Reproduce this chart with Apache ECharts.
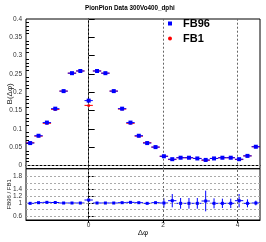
<!DOCTYPE html>
<html><head><meta charset="utf-8">
<script src="https://cdn.jsdelivr.net/npm/echarts@6/dist/echarts.min.js"></script>
<style>html,body{margin:0;padding:0;background:#fff}#c{width:266px;height:242px}</style>
</head><body><div id="c"></div>
<script>
// ---- data ----
const nBins = 28;
const phiLow = -Math.PI / 2 - Math.PI / 28;
const phiHigh = 3 * Math.PI / 2 - Math.PI / 28;
const fb96 = [0.061, 0.081, 0.117, 0.155, 0.203, 0.252, 0.258, 0.177, 0.258, 0.252, 0.203, 0.155, 0.117, 0.081,
              0.061, 0.050, 0.025, 0.017, 0.021, 0.021, 0.019, 0.015, 0.019, 0.021, 0.021, 0.017, 0.026, 0.051];
const fb1 = [0.062, 0.080, 0.115, 0.153, 0.203, 0.252, 0.258, 0.164, 0.258, 0.252, 0.203, 0.154, 0.115, 0.080,
             0.062, 0.050, 0.025, 0.016, 0.021, 0.021, 0.019, 0.014, 0.019, 0.021, 0.021, 0.016, 0.026, 0.051];
const ratio = [0.99, 1.01, 1.02, 1.015, 1.0, 1.0, 1.0, 1.09, 1.0, 1.0, 1.0, 1.01, 1.02, 1.01,
               0.99, 1.01, 1.0, 1.07, 0.99, 0.99, 0.99, 1.06, 0.99, 0.99, 0.99, 1.07, 0.99, 1.0];
const ratioErr = [0.02, 0.02, 0.015, 0.015, 0.012, 0.012, 0.012, 0.015, 0.012, 0.012, 0.012, 0.015, 0.015, 0.02,
                  0.02, 0.03, 0.14, 0.2, 0.16, 0.16, 0.16, 0.31, 0.15, 0.14, 0.14, 0.2, 0.12, 0.07];
const yTicksTop = [0, 0.05, 0.1, 0.15, 0.2, 0.25, 0.3, 0.35, 0.4];
const yTicksRatio = [0.6, 0.8, 1, 1.2, 1.4, 1.6, 1.8];
const xTicks = [0, 2, 4];
const titleText = 'PionPion Data 300Vo400_dphi';

// ---- derived ----
const binW = (phiHigh - phiLow) / nBins;
const centers = fb96.map((_, i) => phiLow + (i + 0.5) * binW);
const minorTop = [];
for (let k = 0; k <= 40; k++) { if (k % 5 !== 0) minorTop.push(k / 100); }

const FONT = 'Liberation Sans';
const hbar = (color) => function (params, api) {
  const x = api.value(0), y = api.value(1), hw = api.value(2);
  const a = api.coord([x - hw, y]), b = api.coord([x + hw, y]);
  return { type: 'line', shape: { x1: a[0], y1: a[1], x2: b[0], y2: b[1] }, style: { stroke: color, lineWidth: 1 } };
};
const errBar = function (params, api) {
  const x = api.value(0), y = api.value(1), hw = api.value(2), e = api.value(3);
  const a = api.coord([x - hw, y]), b = api.coord([x + hw, y]);
  const c = api.coord([x, y - e]), d = api.coord([x, y + e]);
  return { type: 'group', children: [
    { type: 'line', shape: { x1: a[0], y1: a[1], x2: b[0], y2: b[1] }, style: { stroke: '#0000ff', lineWidth: 1 } },
    { type: 'line', shape: { x1: c[0], y1: c[1], x2: d[0], y2: d[1] }, style: { stroke: '#0000ff', lineWidth: 1 } }
  ]};
};
const vLines = xTicks.map(v => ({ xAxis: v }));
const mlV = { silent: true, symbol: 'none', label: { show: false }, animation: false,
  lineStyle: { color: '#666', type: [2, 2], width: 1 }, data: vLines };
const lbl = { margin: 4, fontFamily: FONT, fontSize: 6.5, color: '#333', hideOverlap: false, showMinLabel: true, showMaxLabel: true };

const chart = echarts.init(document.getElementById('c'), null, { renderer: 'canvas' });
chart.setOption({
  animation: false,
  title: { text: titleText, left: 85, top: 5, padding: 0,
    textStyle: { fontFamily: FONT, fontSize: 6.3, fontWeight: 'bold', color: '#000' } },
  legend: { orient: 'vertical', left: 168, top: 18, itemGap: 4, itemWidth: 4, itemHeight: 4, padding: 0,
    data: [{ name: 'FB96', icon: 'rect' }, { name: 'FB1', icon: 'circle' }],
    textStyle: { fontFamily: FONT, fontSize: 11, fontWeight: 'bold', color: '#000', padding: [0, 0, 0, 6] } },
  grid: [
    { left: 26, top: 19, width: 234, height: 149.7, show: true, borderColor: '#000', borderWidth: 1,
      backgroundColor: 'transparent', containLabel: false, outerBoundsMode: 'none' },
    { left: 26, top: 168.7, width: 234, height: 51.3, show: true, borderColor: '#000', borderWidth: 1,
      backgroundColor: 'transparent', containLabel: false, outerBoundsMode: 'none' }
  ],
  xAxis: [
    { gridIndex: 0, type: 'value', min: phiLow, max: phiHigh,
      axisLine: { show: true, lineStyle: { color: '#000' } },
      axisTick: { show: false }, axisLabel: { show: false }, splitLine: { show: false } },
    { gridIndex: 1, type: 'value', min: phiLow, max: phiHigh,
      name: 'Δφ', nameLocation: 'middle', nameGap: 9, nameMoveOverlap: false,
      nameTextStyle: { fontFamily: FONT, fontSize: 8, color: '#222' },
      axisLine: { show: true, lineStyle: { color: '#000' } },
      axisTick: { show: true, customValues: xTicks, length: 3, lineStyle: { color: '#000' } },
      axisLabel: Object.assign({}, lbl, { customValues: xTicks, margin: 2 }),
      splitLine: { show: false } }
  ],
  yAxis: [
    { gridIndex: 0, type: 'value', min: -0.009, max: 0.4,
      name: 'B(Δφ)', nameLocation: 'middle', nameGap: 12, nameMoveOverlap: false,
      nameTextStyle: { fontFamily: FONT, fontSize: 8, color: '#222' },
      axisLine: { show: true, lineStyle: { color: '#000' } },
      axisTick: { show: true, inside: true, length: 6, customValues: yTicksTop, lineStyle: { color: '#000' } },
      axisLabel: Object.assign({}, lbl, { customValues: yTicksTop }),
      splitLine: { show: false } },
    { gridIndex: 0, type: 'value', min: -0.009, max: 0.4, position: 'left',
      axisLine: { show: false },
      axisTick: { show: true, inside: true, length: 3, customValues: minorTop, lineStyle: { color: '#000' } },
      axisLabel: { show: false }, splitLine: { show: false } },
    { gridIndex: 1, type: 'value', min: 0.49, max: 2.03,
      name: 'FB96 / FB1', nameLocation: 'middle', nameGap: 14, nameMoveOverlap: false,
      nameTextStyle: { fontFamily: FONT, fontSize: 6, color: '#222' },
      axisLine: { show: true, lineStyle: { color: '#000' } },
      axisTick: { show: true, inside: true, length: 5, customValues: yTicksRatio, lineStyle: { color: '#000' } },
      axisLabel: Object.assign({}, lbl, { customValues: yTicksRatio }),
      splitLine: { show: false } }
  ],
  series: [
    { name: 'FB96', type: 'scatter', xAxisIndex: 0, yAxisIndex: 0, z: 5,
      symbol: 'rect', symbolSize: 4, itemStyle: { color: '#0000ff', opacity: 1 },
      data: fb96.map((v, i) => [centers[i], v]),
      markLine: Object.assign({}, mlV, { data: vLines.concat([{ yAxis: 0, lineStyle: { color: '#999', type: [2, 2] } }]) }) },
    { name: 'FB1', type: 'scatter', xAxisIndex: 0, yAxisIndex: 0, z: 3,
      symbol: 'circle', symbolSize: 3, itemStyle: { color: '#ff0000', opacity: 1 },
      data: fb1.map((v, i) => [centers[i], v]) },
    { name: 'FB1', type: 'custom', xAxisIndex: 0, yAxisIndex: 0, z: 2, renderItem: hbar('#ff0000'),
      encode: { x: 0, y: 1 }, data: fb1.map((v, i) => [centers[i], v, binW / 2]) },
    { name: 'FB96', type: 'custom', xAxisIndex: 0, yAxisIndex: 0, z: 4, renderItem: hbar('#0000ff'),
      encode: { x: 0, y: 1 }, data: fb96.map((v, i) => [centers[i], v, binW / 2]) },
    { name: 'ratio', type: 'custom', xAxisIndex: 1, yAxisIndex: 2, z: 4, renderItem: errBar,
      encode: { x: 0, y: 1 }, data: ratio.map((v, i) => [centers[i], v, binW / 2, ratioErr[i]]),
      markLine: Object.assign({}, mlV, { data: vLines.concat(yTicksRatio.map(v => ({ yAxis: v, lineStyle: { color: '#aaa', type: [2, 2] } }))) }) },
    { name: 'ratio', type: 'scatter', xAxisIndex: 1, yAxisIndex: 2, z: 5,
      symbol: 'rect', symbolSize: 3, itemStyle: { color: '#0000ff', opacity: 1 },
      data: ratio.map((v, i) => [centers[i], v]) }
  ]
});
</script></body></html>
